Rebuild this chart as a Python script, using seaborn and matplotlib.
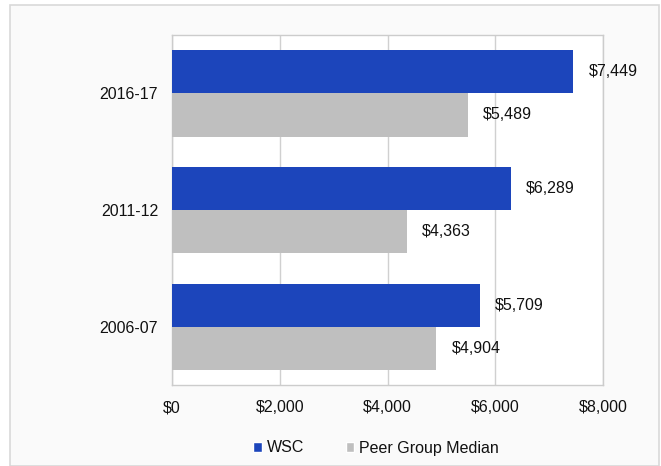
import pandas as pd
import numpy as np
import matplotlib
matplotlib.use('Agg')
import matplotlib.pyplot as plt
import seaborn as sns
from matplotlib.patches import Rectangle, Patch

years = ['2016-17', '2011-12', '2006-07']
wsc = [7449, 6289, 5709]
peer = [5489, 4363, 4904]
series = ['WSC', 'Peer Group Median']
colors = ['#1c45bb', '#bfbfbf']
xticks = [0, 2000, 4000, 6000, 8000]

df = pd.DataFrame({'year': years * 2,
                   'value': wsc + peer,
                   'series': [series[0]] * 3 + [series[1]] * 3})

sns.set_style('white')
plt.rcParams['font.family'] = ['Liberation Sans', 'DejaVu Sans']
plt.rcParams['text.color'] = '#111111'
plt.rcParams['xtick.color'] = '#111111'
plt.rcParams['ytick.color'] = '#111111'
fs = 11.5
W, H = 661, 466
fig = plt.figure(figsize=(W / 100, H / 100), dpi=100)
fig.patch.set_facecolor('white')

# outer panel
fig.patches.append(Rectangle((10 / W, 0), 649 / W, 1 - 5 / H, transform=fig.transFigure,
                             facecolor='#fafafa', edgecolor='#d9d9d9', linewidth=1.2, zorder=-5))

ax = fig.add_axes([172 / W, 1 - 385 / H, 431 / W, 350 / H])
sns.barplot(data=df, y='year', x='value', hue='series', hue_order=series,
            palette=colors, orient='h', width=0.74, gap=0, saturation=1,
            linewidth=0, ax=ax, legend=False, zorder=3)

ax.set_facecolor('white')
ax.set_xlim(0, 8000)
ax.set_xticks(xticks)
ax.set_xticklabels(['${:,}'.format(v) for v in xticks], fontsize=fs)
ax.tick_params(axis='y', labelsize=fs, length=0, pad=10)
ax.tick_params(axis='x', length=5, color='#cccccc', pad=6)
ax.grid(axis='x', color='#d0d0d0', linewidth=1, zorder=0)
ax.set_xlabel('')
ax.set_ylabel('')
for s in ax.spines.values():
    s.set_color('#cccccc')
    s.set_linewidth(1)

for c in ax.containers:
    ax.bar_label(c, labels=['${:,}'.format(int(v)) for v in c.datavalues],
                 padding=11, fontsize=fs)

handles = [Patch(facecolor=colors[i], label=series[i]) for i in range(2)]
fig.legend(handles=handles, loc='center', bbox_to_anchor=(376 / W, 1 - 448 / H),
           ncol=2, frameon=False, fontsize=fs, handlelength=0.55, handleheight=0.55,
           handletextpad=0.3, columnspacing=2.6)

fig.savefig('out.png', dpi=100)
